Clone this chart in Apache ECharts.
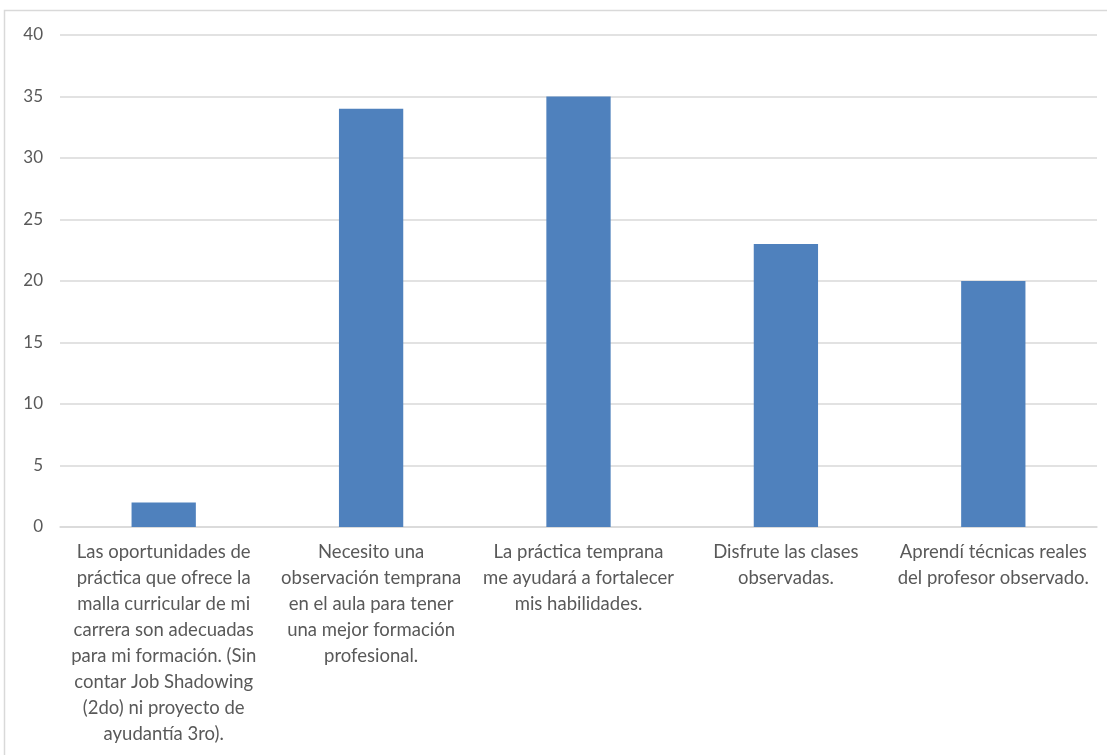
<!DOCTYPE html>
<html>
<head>
<meta charset="utf-8">
<script src="https://cdn.jsdelivr.net/npm/echarts@6/dist/echarts.min.js"></script>
<style>
html,body{margin:0;padding:0;background:#fff;}
#chart{width:1107px;height:755px;}
</style>
</head>
<body>
<div id="chart"></div>
<script>
const categories = [
  "Las oportunidades de\npráctica que ofrece la\nmalla curricular de mi\ncarrera son adecuadas\npara mi formación. (Sin\ncontar Job Shadowing\n(2do) ni proyecto de\nayudantía 3ro).",
  "Necesito una\nobservación temprana\nen el aula para tener\nuna mejor formación\nprofesional.",
  "La práctica temprana\nme ayudará a fortalecer\nmis habilidades.",
  "Disfrute las clases\nobservadas.",
  "Aprendí técnicas reales\ndel profesor observado."
];
const values = [2, 34, 35, 23, 20];
const yTicks = { min: 0, max: 40, interval: 5 };

const chart = echarts.init(document.getElementById('chart'));
chart.setOption({
  animation: false,
  backgroundColor: '#ffffff',
  graphic: [{
    type: 'rect',
    shape: { x: 4.5, y: 10.5, width: 1200, height: 900 },
    style: { fill: 'none', stroke: '#d9d9d9', lineWidth: 1.5 },
    silent: true, z: -1
  }],
  grid: { left: 60, right: 10, top: 35, bottom: 228, containLabel: false },
  xAxis: {
    type: 'category',
    data: categories,
    axisLine: { show: true, lineStyle: { color: '#d9d9d9', width: 1.5 } },
    axisTick: { show: false },
    axisLabel: {
      interval: 0,
      margin: 12,
      color: '#595959',
      fontFamily: 'Lato, "Open Sans", sans-serif',
      fontSize: 18.5,
      lineHeight: 26,
      align: 'center'
    }
  },
  yAxis: {
    type: 'value',
    min: yTicks.min, max: yTicks.max, interval: yTicks.interval,
    axisLine: { show: false },
    axisTick: { show: false },
    splitLine: { lineStyle: { color: '#d9d9d9', width: 1.5 } },
    axisLabel: {
      margin: 17,
      color: '#595959',
      fontFamily: 'Lato, "Open Sans", sans-serif',
      fontSize: 17
    }
  },
  series: [{
    type: 'bar',
    data: values,
    barWidth: '31%',
    itemStyle: { color: '#4f81bd' }
  }]
});
</script>
</body>
</html>
